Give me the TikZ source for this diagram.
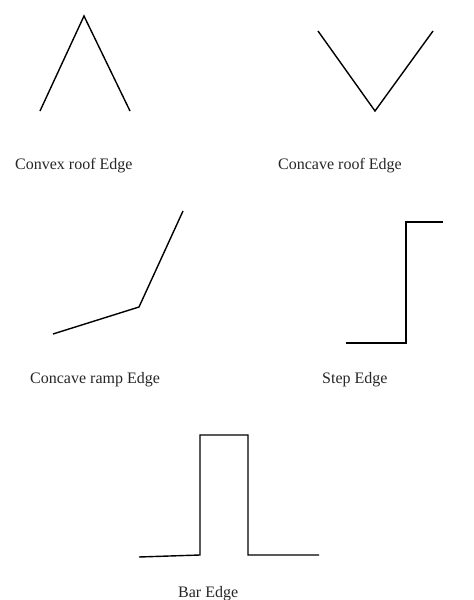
\documentclass[tikz,border=0pt]{standalone}
\usepackage{fontspec}
\setmainfont{Liberation Serif}
\usepackage{tikz}
\usetikzlibrary{positioning}
\tikzstyle{pt} = [coordinate]
\tikzstyle{line} = [draw, line width=1.4pt, line join=miter]
\tikzstyle{caption} = [anchor=base west, inner sep=0pt, text=black!85, font=\fontsize{16}{19}\selectfont]

\begin{document}
\begin{tikzpicture}[x=1pt, y=-1pt]
			\useasboundingbox (0, 0) rectangle (474, 600);

			% convex roof
			\node [pt] (cx1) at (40, 111) {};
			\node [pt] (cx2) at (84, 16) {};
			\node [pt] (cx3) at (130, 111) {};
			\node [caption] (cxlab) at (15, 169) {Convex roof Edge};

			% concave roof
			\node [pt] (cc1) at (318, 31) {};
			\node [pt] (cc2) at (375, 111) {};
			\node [pt] (cc3) at (433, 31) {};
			\node [caption] (cclab) at (278, 169) {Concave roof Edge};

			% concave ramp
			\node [pt] (rp1) at (53, 334) {};
			\node [pt] (rp2) at (139, 307) {};
			\node [pt] (rp3) at (183, 211) {};
			\node [caption] (rplab) at (30, 383) {Concave ramp Edge};

			% step
			\node [pt] (st1) at (346, 343) {};
			\node [pt] (st2) at (406, 343) {};
			\node [pt] (st3) at (406, 222) {};
			\node [pt] (st4) at (443, 222) {};
			\node [caption] (stlab) at (322, 383) {Step Edge};

			% bar
			\node [pt] (br1) at (139, 557) {};
			\node [pt] (br2) at (200, 555) {};
			\node [pt] (br3) at (200, 435) {};
			\node [pt] (br4) at (248, 435) {};
			\node [pt] (br5) at (248, 555) {};
			\node [pt] (br6) at (319, 555) {};
			\node [caption] (brlab) at (178, 597) {Bar Edge};

			\path [line] (cx1) -- (cx2) -- (cx3);
			\path [line] (cc1) -- (cc2) -- (cc3);
			\path [line] (rp1) -- (rp2) -- (rp3);
			\path [line] (st1) -- (st2) -- (st3) -- (st4);
			\path [line] (br1) -- (br2) -- (br3) -- (br4) -- (br5) -- (br6);
		\end{tikzpicture}
\end{document}
